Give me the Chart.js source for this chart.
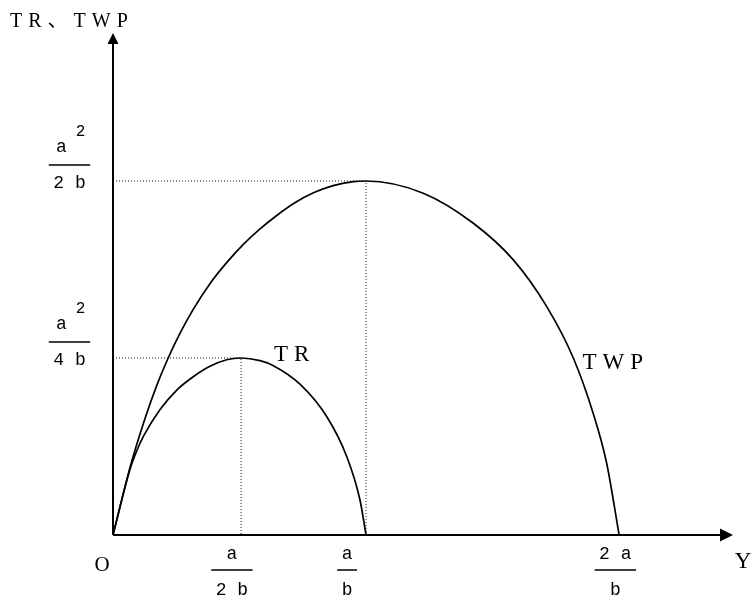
<!DOCTYPE html>
<html>
<head>
<meta charset="utf-8">
<script src="https://cdn.jsdelivr.net/npm/chart.js@4/dist/chart.umd.min.js"></script>
<style>
    html, body { margin: 0; padding: 0; background: #fff; }
</style>
</head>
<body>
<canvas id="trTwpChart" width="753" height="601"></canvas>
<script>
// curve values (x in units of a/b, y in units of a^2/4b)
const trX = [0, 0.067, 0.095, 0.120, 0.186, 0.252, 0.317, 0.383, 0.449, 0.506, 0.581, 0.632,
             0.739, 0.845, 0.924, 0.976, 1.0];
const trY = [0, 0.370, 0.479, 0.557, 0.709, 0.819, 0.894, 0.953, 0.990, 1.0, 0.985, 0.958,
             0.852, 0.668, 0.442, 0.198, 0];

const twpX = [0, 0.067, 0.120, 0.173, 0.215, 0.265, 0.317, 0.383, 0.450, 0.515, 0.580, 0.647,
              0.720, 0.792, 0.870, 0.950, 1.0,
              1.226, 1.424, 1.582, 1.714, 1.819, 1.898, 1.951, 2.0];
const twpY = [0, 0.380, 0.630, 0.845, 0.990, 1.140, 1.275, 1.420, 1.540, 1.642, 1.728, 1.805,
              1.878, 1.933, 1.974, 1.996, 2.0,
              1.931, 1.761, 1.554, 1.290, 1.000, 0.685, 0.404, 0];

const trPeak = [0.506, 1];
const twpPeak = [1, 2];

// axis ends (arrow tips)
const xMax = 2.45;
const yMax = 2.836;

// tick labels as fractions
const xTickAt = [0.47, 0.925, 1.985];
const xTickNum = ['a', 'a', '2 a'];
const xTickDen = ['2 b', 'b', 'b'];

const yTickAt = [2, 1];
const yTickNum = ['a', 'a'];
const yTickSup = ['2', '2'];
const yTickDen = ['2 b', '4 b'];

const curveLabels = ['TR', 'TWP'];
const curveLabelX = [0.706, 1.975];
const curveLabelY = [1.017, 0.972];

const axisTitleY = 'TR、TWP';
const axisTitleX = 'Y';
const originLabel = 'O';

function toPoints(xs, ys) {
    return xs.map(function (x, i) { return { x: x, y: ys[i] }; });
}

function guide(peak) {
    return [{ x: 0, y: peak[1] }, { x: peak[0], y: peak[1] }, { x: peak[0], y: 0 }];
}

const MONO = '"Liberation Mono", "DejaVu Sans Mono", monospace';
const SERIF = '"Liberation Serif", "DejaVu Serif", "Noto Sans CJK SC", serif';

function spacedText(ctx, text, x, y, gap, centered) {
    const chars = Array.from(text);
    const widths = chars.map(function (c) { return ctx.measureText(c).width; });
    const total = widths.reduce(function (a, b) { return a + b; }, 0) + gap * (chars.length - 1);
    let cx = centered ? x - total / 2 : x;
    ctx.textAlign = 'left';
    chars.forEach(function (c, i) {
        ctx.fillText(c, cx, y);
        cx += widths[i] + gap;
    });
}

function fraction(ctx, cx, barY, num, den, sup, numOff, denOff) {
    ctx.font = '18px ' + MONO;
    const w = Math.max(ctx.measureText(num).width, ctx.measureText(den).width) + 9;
    ctx.fillRect(cx - w / 2, barY - 0.75, w, 1.5);
    ctx.textAlign = 'center';
    ctx.textBaseline = 'middle';
    ctx.fillText(num, cx - (sup ? 8 : 0), barY + numOff);
    ctx.fillText(den, cx, barY + denOff);
    if (sup) {
        ctx.font = '16px ' + MONO;
        ctx.fillText(sup, cx + 11, barY + numOff - 15);
    }
}

const axesPlugin = {
    id: 'axesPlugin',
    afterDatasetsDraw(chart) {
        const ctx = chart.ctx;
        const xs = chart.scales.x;
        const ys = chart.scales.y;
        const ox = xs.getPixelForValue(0);
        const oy = ys.getPixelForValue(0);
        const xEnd = xs.getPixelForValue(xMax);
        const yEnd = ys.getPixelForValue(yMax);

        ctx.save();
        ctx.strokeStyle = '#000';
        ctx.fillStyle = '#000';
        ctx.lineWidth = 2;
        ctx.beginPath();
        ctx.moveTo(ox, oy);
        ctx.lineTo(xEnd - 8, oy);
        ctx.moveTo(ox, oy);
        ctx.lineTo(ox, yEnd + 8);
        ctx.stroke();

        ctx.beginPath();
        ctx.moveTo(xEnd, oy);
        ctx.lineTo(xEnd - 13, oy - 6.5);
        ctx.lineTo(xEnd - 13, oy + 6.5);
        ctx.closePath();
        ctx.fill();

        ctx.beginPath();
        ctx.moveTo(ox, yEnd);
        ctx.lineTo(ox - 5.5, yEnd + 11);
        ctx.lineTo(ox + 5.5, yEnd + 11);
        ctx.closePath();
        ctx.fill();

        // fraction tick labels
        xTickAt.forEach(function (v, i) {
            fraction(ctx, xs.getPixelForValue(v), oy + 35, xTickNum[i], xTickDen[i], null, -16, 20);
        });
        yTickAt.forEach(function (v, i) {
            fraction(ctx, ox - 43.5, ys.getPixelForValue(v) - 16, yTickNum[i], yTickDen[i], yTickSup[i], -18, 18);
        });

        // serif labels
        ctx.textBaseline = 'middle';
        ctx.font = '23px ' + SERIF;
        curveLabels.forEach(function (lbl, i) {
            spacedText(ctx, lbl, xs.getPixelForValue(curveLabelX[i]), ys.getPixelForValue(curveLabelY[i]), 6, true);
        });

        ctx.font = '21px ' + SERIF;
        ctx.textAlign = 'center';
        ctx.fillText(originLabel, ox - 11, oy + 30);
        ctx.font = '23px ' + SERIF;
        ctx.fillText(axisTitleX, xEnd + 10, oy + 27);

        ctx.font = '20px ' + SERIF;
        spacedText(ctx, axisTitleY, ox - 103, yEnd - 11, 6, false);
        ctx.restore();
    }
};

const ctx = document.getElementById('trTwpChart').getContext('2d');
new Chart(ctx, {
    type: 'scatter',
    data: {
        datasets: [
            {
                label: 'TWP guide',
                data: guide(twpPeak),
                showLine: true,
                borderColor: '#111',
                borderWidth: 1,
                borderDash: [1, 2],
                pointRadius: 0,
                tension: 0
            },
            {
                label: 'TR guide',
                data: guide(trPeak),
                showLine: true,
                borderColor: '#111',
                borderWidth: 1,
                borderDash: [1, 2],
                pointRadius: 0,
                tension: 0
            },
            {
                label: 'TR',
                data: toPoints(trX, trY),
                showLine: true,
                borderColor: '#000',
                borderWidth: 1.7,
                pointRadius: 0,
                cubicInterpolationMode: 'monotone'
            },
            {
                label: 'TWP',
                data: toPoints(twpX, twpY),
                showLine: true,
                borderColor: '#000',
                borderWidth: 1.7,
                pointRadius: 0,
                cubicInterpolationMode: 'monotone'
            }
        ]
    },
    options: {
        responsive: false,
        animation: false,
        events: [],
        layout: { padding: { left: 113, right: 20, top: 33, bottom: 66 } },
        plugins: {
            legend: { display: false },
            tooltip: { enabled: false }
        },
        scales: {
            x: { type: 'linear', min: 0, max: xMax, display: false },
            y: { type: 'linear', min: 0, max: yMax, display: false }
        }
    },
    plugins: [axesPlugin]
});
</script>
</body>
</html>
